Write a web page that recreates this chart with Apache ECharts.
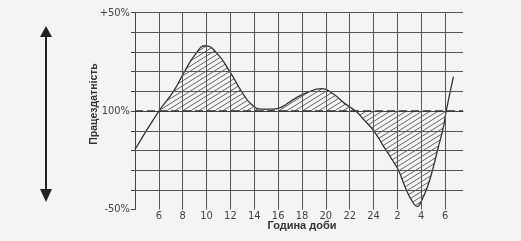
<!DOCTYPE html>
<html><head><meta charset="utf-8">
<script src="https://cdn.jsdelivr.net/npm/echarts@6/dist/echarts.min.js"></script>
<style>html,body{margin:0;padding:0;background:#f4f4f4}#c{width:521px;height:241px}</style>
</head><body><div id="c"></div>
<script>
// Hour of day (continuous; values above 24 are the next morning)
const hours  = [4, 6, 7.2, 8.1, 9.1, 9.9, 10.9, 12.0, 13.0, 13.8, 14.6, 15.6, 16.4, 17.2, 18.4, 19.7, 20.6, 21.6, 22.5, 23.1, 24.0, 24.8, 25.6, 26.1, 26.7, 27.2, 27.7, 27.95, 28.5, 29.0, 29.4, 29.85, 30.09, 30.7];
// Working capacity deviation from the 100% level, %
const values = [-19.5, 0, 9.8, 19.5, 29.2, 33.2, 29.2, 19.5, 9.4, 3.2, 1.0, 1.0, 2.4, 5.6, 9.4, 11.4, 8.8, 3.8, 0, -3.8, -9.9, -17.5, -25.1, -30.2, -39.3, -45.4, -48.5, -46.4, -38.8, -28.7, -19.0, -8.4, 0, 17.5];
// hatched span (between the crossings of the 100% line)
const hatchFrom = 6, hatchTo = 30.09;
// x tick labels
const xTickValues = [6, 8, 10, 12, 14, 16, 18, 20, 22, 24, 26, 28, 30];
const xTickLabels = ['6', '8', '10', '12', '14', '16', '18', '20', '22', '24', '2', '4', '6'];
// y tick labels
const yTickValues = [-50, 0, 50];
const yTickLabels = ['-50%', '100%', '+50%'];
const yGridValues = [-40, -30, -20, -10, 10, 20, 30, 40, 50];

const tickFont = "'Liberation Sans Narrow','DejaVu Sans Condensed','Liberation Sans',sans-serif";

// diagonal hatch pattern
const pat = document.createElement('canvas');
pat.width = 8; pat.height = 5;
(function(){
  const g = pat.getContext('2d');
  g.strokeStyle = '#555'; g.lineWidth = 0.9;
  [[0,0],[-8,0],[8,0]].forEach(function(o){
    g.beginPath(); g.moveTo(o[0]-8, 10); g.lineTo(o[0]+16, -5); g.stroke();
  });
})();

const lineData = hours.map((h, i) => [h, values[i]]);
const areaData = lineData.filter(p => p[0] >= hatchFrom && p[0] <= hatchTo);

const gridLineStyle = {color: '#555', width: 1, type: 'solid'};
const markData = []
  .concat(xTickValues.map(v => ({xAxis: v, lineStyle: gridLineStyle})))
  .concat(yGridValues.map(v => ({yAxis: v, lineStyle: gridLineStyle})))
  .concat([{yAxis: 0, lineStyle: {color: '#333', width: 1.6, type: [8, 4]}}]);

const chart = echarts.init(document.getElementById('c'));
chart.setOption({
  animation: false,
  backgroundColor: '#f4f4f4',
  grid: {left: 135, right: 58, top: 12.7, bottom: 31.5, outerBoundsMode: 'none', containLabel: false},
  xAxis: {
    type: 'value', min: 4, max: 31.5, interval: 2,
    name: 'Година доби', nameLocation: 'middle', nameGap: 11, nameMoveOverlap: false,
    nameTextStyle: {fontFamily: "'Liberation Sans',sans-serif", fontWeight: 'bold', fontSize: 11, color: '#333', padding: [0, 0, 0, 6]},
    axisLine: {show: true, lineStyle: {color: '#444', width: 1}},
    axisTick: {show: false},
    splitLine: {show: false},
    axisLabel: {
      margin: 1, fontSize: 11, color: '#444', fontFamily: tickFont,
      showMinLabel: true, showMaxLabel: true,
      formatter: function(v){ const i = xTickValues.indexOf(v); return i < 0 ? '' : xTickLabels[i]; }
    }
  },
  yAxis: {
    type: 'value', min: -50, max: 50, interval: 10,
    axisLine: {show: true, lineStyle: {color: '#444', width: 1}},
    axisTick: {show: true, length: 4, lineStyle: {color: '#444'}},
    splitLine: {show: false},
    axisLabel: {
      margin: 5, fontSize: 11, color: '#444', fontFamily: tickFont,
      formatter: function(v){ const i = yTickValues.indexOf(v); return i < 0 ? '' : yTickLabels[i]; }
    }
  },
  graphic: [
    {type: 'line', shape: {x1: 46, y1: 34, x2: 46, y2: 192}, style: {stroke: '#222', lineWidth: 2}},
    {type: 'polygon', shape: {points: [[46, 26], [40, 37], [52, 37]]}, style: {fill: '#222'}},
    {type: 'polygon', shape: {points: [[46, 202], [40, 189], [52, 189]]}, style: {fill: '#222'}},
    {type: 'text', x: 94, y: 104, rotation: Math.PI / 2,
     style: {text: 'Працездатність', align: 'center', verticalAlign: 'middle',
             font: "bold 10.5px 'Liberation Sans', sans-serif", fill: '#333'}}
  ],
  series: [
    {
      type: 'line', data: areaData, smooth: 0.5, symbol: 'none', silent: true,
      lineStyle: {width: 0},
      areaStyle: {origin: 0, color: {image: pat, repeat: 'repeat'}, opacity: 1},
      z: 2
    },
    {
      type: 'line', data: lineData, smooth: 0.5, symbol: 'none', silent: true,
      lineStyle: {color: '#333', width: 1.3},
      markLine: {silent: true, symbol: ['none', 'none'], label: {show: false}, data: markData},
      z: 3
    }
  ]
});
</script>
</body></html>
